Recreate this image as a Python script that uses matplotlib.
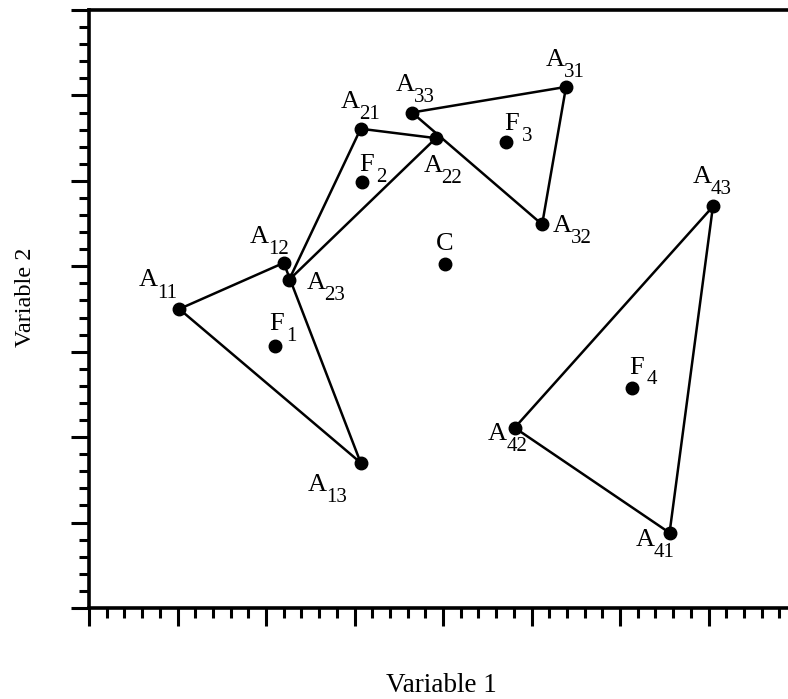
import matplotlib
matplotlib.use("Agg")
import matplotlib.pyplot as plt
from matplotlib.ticker import MultipleLocator

plt.rcParams['font.family'] = ['Liberation Serif', 'DejaVu Serif']

# Triangle vertices (Variable 1, Variable 2) for the four groups
tri1_x = [1.02, 2.20, 3.07]
tri1_y = [3.50, 4.04, 1.70]
tri2_x = [3.07, 3.92, 2.26]
tri2_y = [5.61, 5.50, 3.84]
tri3_x = [5.39, 5.12, 3.65]
tri3_y = [6.10, 4.49, 5.80]
tri4_x = [6.56, 4.81, 7.05]
tri4_y = [0.88, 2.11, 4.70]

# Group centres F1..F4 and overall centre C
f_x = [2.10, 3.08, 4.71, 6.13]
f_y = [3.07, 4.99, 5.46, 2.57]
c_x = [4.02]
c_y = [4.03]

vertex_labels = [["11", "12", "13"], ["21", "22", "23"],
                 ["31", "32", "33"], ["41", "42", "43"]]
f_labels = ["1", "2", "3", "4"]

# Placement of each label's main letter relative to its point (pixels, y up)
vertex_offsets = [[(-31, 31), (-24, 28), (-43, -20)],
                  [(-10, 29), (-3, -25), (27, -1)],
                  [(-11, 29), (20, 1), (-7, 30)],
                  [(-24, -5), (-17, -4), (-11, 32)]]
f_offsets = [(2, 24), (5, 19), (6, 20), (5, 23)]
c_offset = (0, 22)

W, H, DPI = 788, 699, 100
fig = plt.figure(figsize=(W / DPI, H / DPI), dpi=DPI)
ax = fig.add_axes([89 / W, (H - 608) / H, (W - 89) / W, (608 - 10) / H])

ax.set_xlim(0, (W - 89) / 88.5)
ax.set_ylim(0, 7.0)

for s in ("left", "bottom", "top"):
    ax.spines[s].set_linewidth(2.6)
ax.spines["right"].set_visible(False)

ax.xaxis.set_major_locator(MultipleLocator(1))
ax.xaxis.set_minor_locator(MultipleLocator(0.2))
ax.yaxis.set_major_locator(MultipleLocator(1))
ax.yaxis.set_minor_locator(MultipleLocator(0.2))
ax.tick_params(which="major", direction="out", length=12.7, width=2.2,
               labelbottom=False, labelleft=False, top=False, right=False)
ax.tick_params(which="minor", direction="out", length=7.2, width=2.2,
               top=False, right=False)

LW = 1.8
MS = 9
A_SIZE = 19
SUB_SIZE = 15
A_HALF = 8.5     # half cap height of the main letter, px
SUB_HALF = 7.0   # half digit height of the subscript, px
SUB_DX, SUB_DY = 19, -12.5
FSUB_DX, FSUB_DY = 15, -12


def place(x, y, dx, dy, txt, size, half):
    ax.annotate(txt, xy=(x, y), xytext=(dx, dy - half),
                textcoords="offset pixels", ha="center", va="baseline",
                fontsize=size, annotation_clip=False)


def label(x, y, letter, sub, dx, dy, sdx, sdy):
    place(x, y, dx, dy, letter, A_SIZE, A_HALF)
    if sub:
        place(x, y, dx + sdx, dy + sdy, sub, SUB_SIZE, SUB_HALF)


triangles = [(tri1_x, tri1_y), (tri2_x, tri2_y),
             (tri3_x, tri3_y), (tri4_x, tri4_y)]
for (tx, ty), subs, offs in zip(triangles, vertex_labels, vertex_offsets):
    ax.plot(tx + tx[:1], ty + ty[:1], color="black", lw=LW, zorder=2)
    ax.plot(tx, ty, "o", color="black", ms=MS, zorder=3)
    for x, y, sub, (dx, dy) in zip(tx, ty, subs, offs):
        label(x, y, "A", sub, dx, dy, SUB_DX, SUB_DY)

ax.plot(f_x, f_y, "o", color="black", ms=MS, zorder=3)
for x, y, sub, (dx, dy) in zip(f_x, f_y, f_labels, f_offsets):
    label(x, y, "F", sub, dx, dy, FSUB_DX, FSUB_DY)

ax.plot(c_x, c_y, "o", color="black", ms=MS, zorder=3)
label(c_x[0], c_y[0], "C", "", c_offset[0], c_offset[1], 0, 0)

fig.text(441 / W, 1 - 691.5 / H, "Variable 1", ha="center", va="baseline",
         fontsize=19.5)
fig.text(31.5 / W, 1 - 297 / H, "Variable 2", ha="center", va="baseline",
         rotation=90, rotation_mode="anchor", fontsize=17.5)

fig.savefig("out.png", dpi=DPI)
